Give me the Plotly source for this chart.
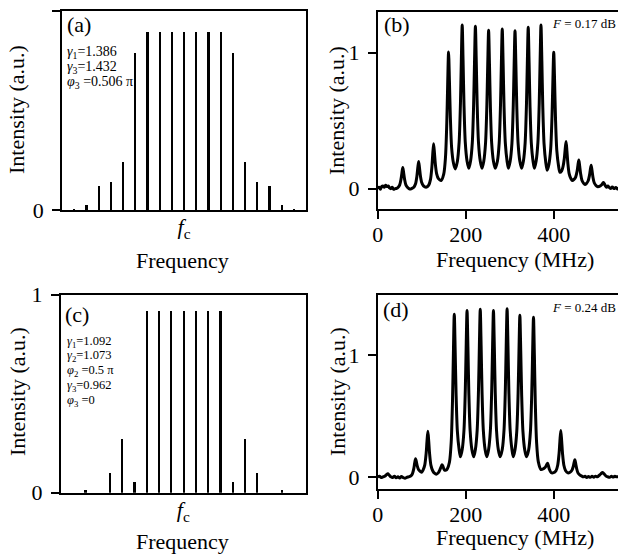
import plotly.graph_objects as go

# ---------------- data ----------------
order_a = list(range(-9, 10))
height_a = [0.005, 0.025, 0.12, 0.14, 0.24, 0.79, 0.893, 0.893, 0.893, 0.893,
            0.893, 0.893, 0.893, 0.79, 0.24, 0.14, 0.12, 0.025, 0.005]

order_c = list(range(-9, 10))
height_c = [0.0, 0.017, 0.0, 0.10, 0.273, 0.056, 0.919, 0.919, 0.919, 0.919,
            0.919, 0.919, 0.919, 0.056, 0.273, 0.10, 0.0, 0.017, 0.0]

params_a = ["<i>γ</i><sub>1</sub>=1.386", "<i>γ</i><sub>3</sub>=1.432",
            "<i>φ</i><sub>3</sub> =0.506 π"]
params_c = ["<i>γ</i><sub>1</sub>=1.092", "<i>γ</i><sub>2</sub>=1.073",
            "<i>φ</i><sub>2</sub> =0.5 π", "<i>γ</i><sub>3</sub>=0.962",
            "<i>φ</i><sub>3</sub> =0"]

noise_fig_b = "<i>F</i> = 0.17 dB"
noise_fig_d = "<i>F</i> = 0.24 dB"

trace_b = [(0,0.0),(3,0.01),(6,-0.005),(9,0.015),(12,0.02),(15,0.01),(18,0.025),(21,0.015),(24,0.02),(27,0.005),(30,0.0),(33,0.01),(36,-0.005),(40,0.0),(43,0.002),
(46,0.008),(50,0.028),(53,0.07),(55,0.116),(57,0.155),(59,0.116),(61,0.07),(64,0.028),(68,0.008),(71,0.0),(75,-0.003),(78,0.002),
(82,0.01),(86,0.036),(89,0.09),(91,0.15),(93,0.2),(95,0.152),(97,0.095),(100,0.045),(104,0.02),(110,0.01),
(116,0.026),(120,0.068),(123,0.154),(125,0.25),(127,0.33),(129,0.262),(131,0.18),(134,0.109),(138,0.073),(144,0.06),
(150,0.107),(154,0.23),(157,0.485),(159,0.769),(161,1.005),(163,0.79),(165,0.535),(168,0.3),(172,0.19),(176,0.145),
(181,0.2),(185,0.34),(188,0.625),(190,0.94),(192,1.205),(194,0.94),(196,0.627),(199,0.34),(203,0.203),(207,0.15),
(211,0.203),(215,0.34),(218,0.623),(220,0.933),(222,1.195),(224,0.933),(226,0.623),(229,0.34),(233,0.203),(237,0.15),
(241,0.201),(245,0.334),(248,0.609),(250,0.911),(252,1.165),(254,0.911),(256,0.609),(259,0.334),(263,0.201),(267,0.15),
(272,0.202),(276,0.335),(279,0.613),(281,0.918),(283,1.174),(285,0.918),(287,0.613),(290,0.335),(294,0.202),(297,0.15),
(301,0.201),(305,0.333),(308,0.608),(310,0.909),(312,1.162),(314,0.909),(316,0.608),(319,0.333),(323,0.201),(327,0.15),
(331,0.202),(335,0.337),(338,0.619),(340,0.927),(342,1.187),(344,0.927),(346,0.619),(349,0.337),(353,0.202),(356,0.15),
(360,0.203),(364,0.34),(367,0.627),(369,0.94),(371,1.204),(373,0.938),(375,0.618),(378,0.33),(382,0.19),(385,0.135),
(389,0.178),(393,0.29),(396,0.525),(398,0.786),(400,1.003),(402,0.782),(404,0.517),(407,0.279),(411,0.164),(414,0.12),
(418,0.131),(421,0.161),(424,0.222),(426,0.29),(428,0.346),(430,0.274),(432,0.189),(435,0.111),(439,0.074),(442,0.06),
(446,0.068),(450,0.087),(453,0.128),(455,0.173),(457,0.21),(459,0.165),(461,0.111),(464,0.062),(468,0.039),(471,0.03),
(474,0.037),(478,0.056),(481,0.094),(483,0.137),(485,0.172),(487,0.133),(489,0.086),(492,0.043),(496,0.023),(499,0.015),
(506,0.02),(509,0.028),(511,0.038),(513,0.045),(515,0.035),(517,0.023),(520,0.01),(523,0.02),(525,0.012),(529,0.0),(533,0.012),(537,0.0),(541,0.008),(545,-0.003),(548,0.005)]

trace_d = [(0,0.0),(4,0.005),(8,-0.005),(12,0.0),(16,0.005),(20,0.018),(23,0.025),(26,0.015),(30,0.0),(34,-0.005),(38,0.005),(42,-0.008),(46,0.0),(50,-0.01),(54,0.002),(58,-0.006),(62,-0.012),(66,-0.005),(70,0.0),(73,0.004),
(76,0.01),(79,0.027),(82,0.068),(84,0.113),(86,0.15),(88,0.122),(90,0.088),(93,0.058),(97,0.044),(100,0.038),
(103,0.055),(107,0.099),(110,0.19),(112,0.292),(114,0.376),(116,0.29),(118,0.187),(121,0.095),(125,0.05),(129,0.03),(133,0.022),
(138,0.035),(141,0.056),(144,0.082),(146,0.1),(148,0.089),(150,0.068),(152,0.055),(155,0.055),(158,0.065),
(163,0.12),(167,0.286),(170,0.633),(172,1.019),(174,1.34),(176,1.047),(178,0.695),(181,0.377),(185,0.225),(188,0.165),
(192,0.225),(196,0.382),(199,0.707),(201,1.069),(203,1.37),(205,1.069),(207,0.707),(210,0.382),(214,0.225),(218,0.165),
(222,0.226),(226,0.383),(229,0.712),(231,1.077),(233,1.38),(235,1.077),(237,0.712),(240,0.383),(244,0.226),(248,0.165),
(252,0.225),(256,0.382),(259,0.707),(261,1.069),(263,1.37),(265,1.069),(267,0.707),(270,0.382),(274,0.225),(278,0.165),
(283,0.226),(287,0.384),(290,0.714),(292,1.08),(294,1.385),(296,1.08),(298,0.714),(301,0.384),(305,0.226),(308,0.165),
(312,0.223),(316,0.374),(319,0.689),(321,1.039),(323,1.33),(325,1.039),(327,0.689),(330,0.374),(334,0.223),(338,0.165),
(343,0.222),(347,0.372),(350,0.681),(352,1.027),(354,1.315),(356,1.001),(358,0.625),(361,0.286),(365,0.123),(371,0.06),
(377,0.068),(381,0.08),(384,0.1),(386,0.113),(388,0.09),(390,0.062),(394,0.035),(398,0.033),
(405,0.05),(409,0.096),(412,0.19),(414,0.295),(416,0.382),(418,0.295),(420,0.19),(423,0.096),(427,0.05),(432,0.033),
(437,0.038),(441,0.052),(444,0.081),(446,0.113),(448,0.14),(450,0.107),(452,0.069),(455,0.033),(459,0.016),
(463,0.008),(467,0.0),(471,0.005),(475,-0.005),(479,0.003),(483,-0.004),(487,0.004),(491,-0.003),(495,0.006),(499,0.0),(503,0.012),(507,0.025),(511,0.036),(515,0.022),(519,0.006),(523,0.0),(527,-0.004),(531,0.004),(535,-0.002),(539,0.005),(543,0.0),(547,0.002)]

freq_ticks = [0, 200, 400]

# ---------------- layout helpers ----------------
W, H = 618, 554
FONT = "Liberation Serif"
def px(x):
    return x / W
def py(y):
    return 1 - y / H

fig = go.Figure()

fig.add_trace(go.Bar(x=order_a, y=height_a, width=0.18, marker=dict(color="black", line=dict(width=0)),
                     xaxis="x", yaxis="y", showlegend=False))
fig.add_trace(go.Scatter(x=[p[0] for p in trace_b], y=[p[1] for p in trace_b], mode="lines",
                         line=dict(color="black", width=3, shape="spline", smoothing=0.8),
                         xaxis="x2", yaxis="y2", showlegend=False))
fig.add_trace(go.Bar(x=order_c, y=height_c, width=0.18, marker=dict(color="black", line=dict(width=0)),
                     xaxis="x3", yaxis="y3", showlegend=False))
fig.add_trace(go.Scatter(x=[p[0] for p in trace_d], y=[p[1] for p in trace_d], mode="lines",
                         line=dict(color="black", width=3, shape="spline", smoothing=0.8),
                         xaxis="x4", yaxis="y4", showlegend=False))

common = dict(showgrid=False, zeroline=False, showline=True, linecolor="black", linewidth=1.8,
              automargin=False,
              tickfont=dict(family=FONT, size=22, color="black"), tickcolor="black", tickwidth=1.5)

fc = "<i>f</i><sub>c</sub>"
fig.update_layout(
    width=W, height=H, margin=dict(l=0, r=0, t=0, b=0, pad=0), autosize=False,
    paper_bgcolor="white", plot_bgcolor="white", bargap=0,
    font=dict(family=FONT, color="black"),
    xaxis=dict(domain=[px(62), px(306)], range=[-10, 10], tickvals=[0], ticktext=[fc], ticks="",
               mirror=True, anchor="y", ticklabelstandoff=-4, **common),
    yaxis=dict(domain=[py(210), py(11)], range=[0, 1], tickvals=[0, 1], ticks="outside", ticklen=8,
               mirror=True, anchor="x", ticklabelstandoff=4, **common),
    xaxis2=dict(domain=[px(377.7), 1.0], range=[0, 546], tickvals=freq_ticks, ticks="outside", ticklen=8,
                mirror=True, anchor="y2", ticklabelstandoff=-3, **common),
    yaxis2=dict(domain=[py(209), py(12)], range=[-0.15, 1.30], tickvals=[0, 1], ticks="outside", ticklen=8,
                mirror=False, anchor="x2", ticklabelstandoff=4, **common),
    xaxis3=dict(domain=[px(60.7), px(306)], range=[-10, 10], tickvals=[0], ticktext=[fc], ticks="",
                mirror=True, anchor="y3", ticklabelstandoff=-4, **common),
    yaxis3=dict(domain=[py(492.7), py(294.7)], range=[0, 1], tickvals=[0, 1], ticks="outside", ticklen=8,
                mirror=True, anchor="x3", ticklabelstandoff=4, **common),
    xaxis4=dict(domain=[px(377.7), 1.0], range=[0, 546], tickvals=freq_ticks, ticks="outside", ticklen=8,
                mirror=True, anchor="y4", ticklabelstandoff=-3, **common),
    yaxis4=dict(domain=[py(489), py(294.7)], range=[-0.1, 1.5], tickvals=[0, 1], ticks="outside", ticklen=8,
                mirror=False, anchor="x4", ticklabelstandoff=4, **common),
)

ann = []
def text(x, y, s, size, xa="left", ya="middle", angle=0):
    ann.append(dict(x=px(x), y=py(y), xref="paper", yref="paper", text=s, showarrow=False,
                    xanchor=xa, yanchor=ya, textangle=angle, borderpad=0,
                    font=dict(family=FONT, size=size, color="black")))

# panel labels
text(66, 25, "(a)", 22)
text(383, 25, "(b)", 22)
text(64, 314, "(c)", 22)
text(382, 309, "(d)", 22)

# parameter text
for i, s in enumerate(params_a):
    text(66, 52.3 + 15 * i, s, 14)
for i, s in enumerate(params_c):
    text(66, 341.5 + 14.8 * i, s, 12.5)

text(617, 24, noise_fig_b, 13, xa="right")
text(617, 307.5, noise_fig_d, 13, xa="right")

# axis titles
text(182, 260, "Frequency", 22, xa="center")
text(182, 541, "Frequency", 22, xa="center")
text(515, 259, "Frequency (MHz)", 22, xa="center")
text(515, 537, "Frequency (MHz)", 22, xa="center")
text(17, 110, "Intensity (a.u.)", 22, xa="center", angle=-90)
text(17, 392, "Intensity (a.u.)", 22, xa="center", angle=-90)
text(337, 111, "Intensity (a.u.)", 22, xa="center", angle=-90)
text(337, 392, "Intensity (a.u.)", 22, xa="center", angle=-90)

fig.update_layout(annotations=ann)
fig.write_html("out.html", config={"responsive": False, "displayModeBar": False},
               post_script="document.body.style.margin='0';document.body.style.overflow='hidden';")
